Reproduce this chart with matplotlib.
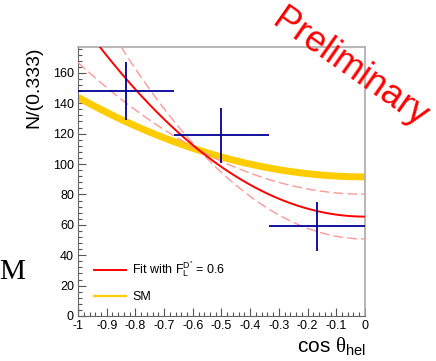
import numpy as np
import matplotlib
matplotlib.use('Agg')
import matplotlib.pyplot as plt
from matplotlib.lines import Line2D
from matplotlib.ticker import MultipleLocator, FixedLocator, FixedFormatter

plt.rcParams['font.family'] = ['Liberation Sans', 'DejaVu Sans']
plt.rcParams['mathtext.fontset'] = 'custom'
plt.rcParams['mathtext.rm'] = 'Liberation Sans'
plt.rcParams['mathtext.it'] = 'Liberation Serif'

# measured yields per bin of cos(theta_hel)
bin_centers = [-0.8333, -0.5, -0.1667]
bin_halfwidth = [0.1667, 0.1667, 0.1667]
counts = [148, 119, 59]
count_err = [19, 18, 16]

# angular model: N * ((1 - F_L) * sin^2 + 2 F_L * cos^2)
norm = 163.5
fl_fit = 0.6
fl_band = [0.51, 0.69]
fl_sm = 0.44

xticks = [-1, -0.9, -0.8, -0.7, -0.6, -0.5, -0.4, -0.3, -0.2, -0.1, 0]
xticklabels = ['-1', '-0.9', '-0.8', '-0.7', '-0.6', '-0.5', '-0.4', '-0.3', '-0.2', '-0.1', '0']


def model(c, fl):
    return norm * ((1 - fl) * (1 - c**2) + 2 * fl * c**2)


fig = plt.figure(figsize=(4.36, 3.61), dpi=100)
ax = fig.add_axes([0.179, 0.1247, 0.658, 0.745])

c = np.linspace(-1, 0, 300)
ax.plot(c, model(c, fl_sm), color='#ffcc00', lw=5, solid_capstyle='butt', zorder=2)
for fl in fl_band:
    ax.plot(c, model(c, fl), color='#ff9999', lw=1, dashes=(7, 3), zorder=3)
ax.plot(c, model(c, fl_fit), color='#ff0000', lw=1.4, zorder=4)

ax.errorbar(bin_centers, counts, xerr=bin_halfwidth, yerr=count_err, fmt='none',
            ecolor='#000099', elinewidth=1.3, capsize=0, zorder=5)

ax.set_xlim(-1, 0)
ax.set_ylim(0, 177)

ax.xaxis.set_major_locator(FixedLocator(xticks))
ax.xaxis.set_major_formatter(FixedFormatter(xticklabels))
ax.xaxis.set_minor_locator(MultipleLocator(0.02))
ax.yaxis.set_major_locator(MultipleLocator(20))
ax.yaxis.set_minor_locator(MultipleLocator(4))
ax.tick_params(which='both', direction='in', color='#555555', labelsize=9)
ax.tick_params(which='major', length=6, width=0.8)
ax.tick_params(which='minor', length=3, width=0.8)
ax.tick_params(axis='y', pad=3)
ax.tick_params(axis='x', pad=3)
for side in ['left', 'bottom']:
    ax.spines[side].set_color('#666666')
for side in ['top', 'right']:
    ax.spines[side].set_color('#aaaaaa')
    ax.spines[side].set_linewidth(1.2)

handles = [Line2D([], [], color='#ff0000', lw=1.4),
           Line2D([], [], color='#ffcc00', lw=1.6)]
labels = [r'Fit with $\mathrm{F}_{\mathrm{L}}^{\mathrm{D}^{*}}$ = 0.6', 'SM']
ax.legend(handles, labels, loc='lower left', bbox_to_anchor=(0.015, 0.005),
          frameon=False, fontsize=9, handlelength=2.6, handletextpad=0.5,
          labelspacing=1.0)

fig.text(34 / 436, 1 - 47 / 361, 'N/(0.333)', rotation=90, ha='center', va='top',
         fontsize=14)
fig.text(366 / 436, 1 - 352 / 361, r'cos $\theta_{\mathrm{hel}}$', ha='right',
         va='baseline', fontsize=15)
fig.text(350 / 436, 1 - 68 / 361, 'Preliminary', rotation=-35, ha='center',
         va='center', fontsize=26, color='#ff0000')
fig.text(25 / 436, 1 - 279 / 361, 'M', ha='right', va='baseline', fontsize=21,
         family='Liberation Serif')

fig.savefig('out.png', dpi=100)
